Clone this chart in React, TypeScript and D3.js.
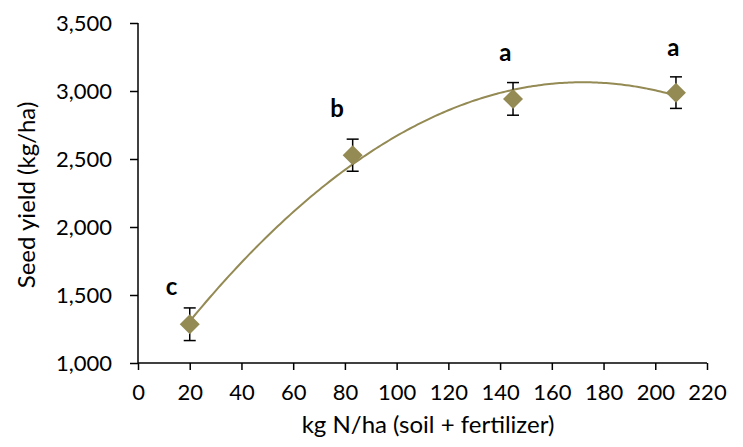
import React, { useEffect, useRef } from 'react';
import * as d3 from 'd3';

// kg N/ha (soil + fertilizer) and seed yield (kg/ha)
const nRates = [20, 83, 145, 208];
const yields = [1285, 2528, 2942, 2988];
const errors = [120, 118, 120, 116];
const letters = ['c', 'b', 'a', 'a'];
// letter anchors, in data units
const letterX = [13, 77, 142, 207];
const letterY = [1560, 2870, 3285, 3320];

const xTicks = d3.range(0, 221, 20);
const yTicks = d3.range(1000, 3501, 500);

// second order polynomial least squares fit (trendline)
function polyFit(xs: number[], ys: number[]) {
    const n = xs.length;
    let s1 = 0, s2 = 0, s3 = 0, s4 = 0, t0 = 0, t1 = 0, t2 = 0;
    for (let i = 0; i < n; i++) {
        const x = xs[i], y = ys[i];
        s1 += x; s2 += x * x; s3 += x ** 3; s4 += x ** 4;
        t0 += y; t1 += x * y; t2 += x * x * y;
    }
    const M = [[n, s1, s2, t0], [s1, s2, s3, t1], [s2, s3, s4, t2]];
    for (let c = 0; c < 3; c++) {
        for (let r = c + 1; r < 3; r++) {
            const f = M[r][c] / M[c][c];
            for (let k = c; k < 4; k++) M[r][k] -= f * M[c][k];
        }
    }
    const coef = [0, 0, 0];
    for (let r = 2; r >= 0; r--) {
        let s = M[r][3];
        for (let k = r + 1; k < 3; k++) s -= M[r][k] * coef[k];
        coef[r] = s / M[r][r];
    }
    return (x: number) => coef[0] + coef[1] * x + coef[2] * x * x;
}

const App = () => {
    const ref = useRef<SVGSVGElement>(null);

    useEffect(() => {
        const svg = d3.select(ref.current);
        svg.selectAll('*').remove();

        const font = 'Lato, "Open Sans", sans-serif';
        const olive = '#948A54';

        const x = d3.scaleLinear().domain([0, 220]).range([138, 707]);
        const y = d3.scaleLinear().domain([1000, 3500]).range([363, 23]);

        const data = nRates.map((n, i) => ({ n, v: yields[i], e: errors[i] }));

        // trendline
        const fit = polyFit(nRates, yields);
        const xs = d3.range(nRates[0], nRates[nRates.length - 1] + 0.01, 1);
        svg.append('path')
            .datum(xs)
            .attr('fill', 'none')
            .attr('stroke', olive)
            .attr('stroke-width', 2)
            .attr('d', d3.line<number>().x(d => x(d)).y(d => y(fit(d))).curve(d3.curveMonotoneX));

        // axes
        const yAxis = svg.append('g')
            .attr('transform', `translate(${x(0)},0)`)
            .call(d3.axisLeft(y).tickValues(yTicks).tickSize(8).tickPadding(18).tickFormat(d3.format(',')));
        const xAxis = svg.append('g')
            .attr('transform', `translate(0,${y(1000)})`)
            .call(d3.axisBottom(x).tickValues(xTicks).tickSize(7).tickPadding(14).tickFormat(d3.format('d')));
        [yAxis, xAxis].forEach(g => {
            g.select('.domain').attr('stroke', '#000').attr('stroke-width', 1.5);
            g.selectAll('.tick line').attr('stroke', '#000').attr('stroke-width', 1.5);
            g.selectAll('.tick text').attr('fill', '#000').attr('font-size', 22).attr('font-family', font);
        });
        yAxis.select('.domain').attr('d', `M0,${y(3500)}V${y(1000)}`);
        xAxis.select('.domain').attr('d', `M${x(0)},0H${x(220)}`);

        // error bars
        const eb = svg.append('g').attr('stroke', '#000').attr('stroke-width', 1.5);
        data.forEach(d => {
            eb.append('line').attr('x1', x(d.n)).attr('x2', x(d.n)).attr('y1', y(d.v - d.e)).attr('y2', y(d.v + d.e));
            [d.v - d.e, d.v + d.e].forEach(v => {
                eb.append('line').attr('x1', x(d.n) - 6).attr('x2', x(d.n) + 6).attr('y1', y(v)).attr('y2', y(v));
            });
        });

        // markers
        svg.append('g').selectAll('path')
            .data(data)
            .enter()
            .append('path')
            .attr('d', d3.symbol().type(d3.symbolSquare).size(200)())
            .attr('transform', d => `translate(${x(d.n)},${y(d.v)}) rotate(45)`)
            .attr('fill', olive);

        // significance letters
        svg.append('g').selectAll('text')
            .data(letters)
            .enter()
            .append('text')
            .attr('x', (_, i) => x(letterX[i]))
            .attr('y', (_, i) => y(letterY[i]))
            .attr('dy', '0.35em')
            .attr('text-anchor', 'middle')
            .attr('font-family', font)
            .attr('font-weight', 'bold')
            .attr('font-size', 24)
            .text(d => d);

        // axis titles
        svg.append('text')
            .attr('transform', 'translate(35,195) rotate(-90)')
            .attr('text-anchor', 'middle')
            .attr('font-family', font)
            .attr('font-size', 24)
            .text('Seed yield (kg/ha)');
        svg.append('text')
            .attr('x', 428)
            .attr('y', 433)
            .attr('text-anchor', 'middle')
            .attr('font-family', font)
            .attr('font-size', 24)
            .text('kg N/ha (soil + fertilizer)');
    }, []);

    return (
        <svg ref={ref} width={743} height={447}
            style={{ position: 'absolute', left: 0, top: 0, background: '#fff' }} />
    );
};

export default App;
